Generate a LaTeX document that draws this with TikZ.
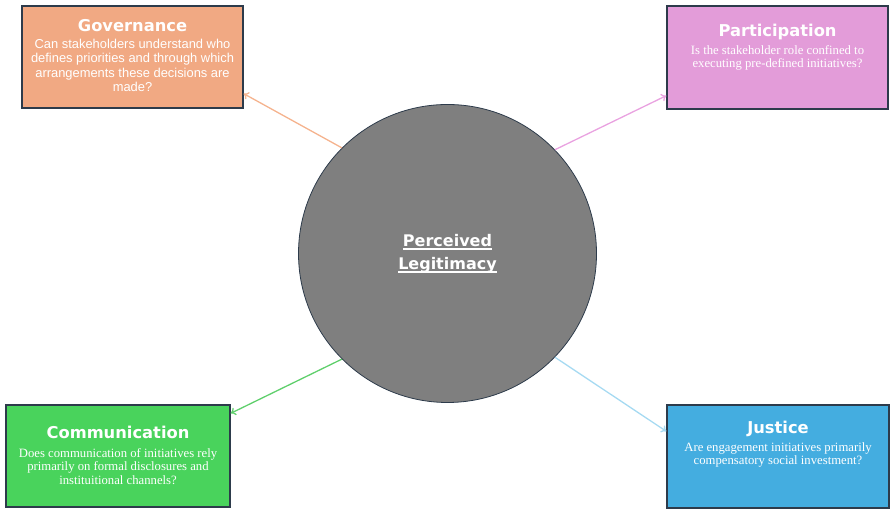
\documentclass[tikz,border=0pt]{standalone}
\usepackage{fontspec}
\setmainfont{Liberation Serif}
\newfontfamily\headfont{DejaVu Sans}
\newfontfamily\qsans{Liberation Sans}
\usepackage{tikz}
\usetikzlibrary{arrows.meta,positioning}
\definecolor{edge}{HTML}{2D3B4B}
\definecolor{hubgray}{HTML}{7F7F7F}
\definecolor{govfill}{HTML}{F1A983}
\definecolor{partfill}{HTML}{E39CD9}
\definecolor{commfill}{HTML}{49D35C}
\definecolor{justfill}{HTML}{44ADE0}
\definecolor{govline}{HTML}{F5B38E}
\definecolor{partline}{HTML}{E9A2E0}
\definecolor{commline}{HTML}{5FCF6C}
\definecolor{justline}{HTML}{A6DAF2}
% thick underline for the hub caption
\newcommand\hubline[1]{\setbox0\hbox{#1}\rlap{\rule[-3.5pt]{\wd0}{1.5pt}}\box0}
\newcommand\boxtitle[1]{{\fontsize{16.3}{18}\selectfont\headfont\bfseries #1}}
\tikzset{
  qbox/.style={
    rectangle, draw=edge, fill=#1, line width=1.3pt,
    minimum width=221pt, minimum height=102pt,
    inner sep=0pt
  },
  qbox/.default=govfill,
  qtext/.style={
    anchor=north, align=center, text=white, inner sep=0pt,
    font=\fontsize{12.7}{13.6}\selectfont
  },
  hub/.style={
    circle, draw=edge, fill=hubgray, line width=0.8pt,
    minimum size=298pt, inner sep=0pt,
    text=white, align=center,
    font=\fontsize{16}{23}\selectfont\headfont\bfseries
  },
  link/.style={
    -{To[length=5pt,width=8pt]}, line width=1.3pt, color=#1
  },
  link/.default=edge,
}

\begin{document}
\begin{tikzpicture}[x=1pt,y=1pt]
  \useasboundingbox (0,0) rectangle (890,510);

  \node[hub] (pl) at (447.5,256.5)
    {\hubline{Perceived}\\\hubline{Legitimacy}};

  % four question boxes round the hub
  \node[qbox=govfill] (gov) at (132.5,453) {};
  \node[qbox=partfill, minimum height=103pt] (part) at (777.5,452.5) {};
  \node[qbox=commfill, minimum width=224pt] (comm) at (118,54) {};
  \node[qbox=justfill, minimum width=222pt, minimum height=103pt] (just)
    at (778,53.5) {};

  \node[qtext, below=14pt of gov.north,
    font=\fontsize{12.9}{14.3}\selectfont\qsans] (govtxt)
    {\boxtitle{Governance}\\[2.5pt]
     Can stakeholders understand who\\
     defines priorities and through which\\
     arrangements these decisions are\\
     made?};
  \node[qtext, below=19pt of part.north] (parttxt)
    {\boxtitle{Participation}\\[3.5pt]
     Is the stakeholder role confined to\\
     executing pre-defined initiatives?};
  \node[qtext, below=22pt of comm.north] (commtxt)
    {\boxtitle{Communication}\\[4.5pt]
     Does communication of initiatives rely\\
     primarily on formal disclosures and\\
     instituitional channels?};
  \node[qtext, below=17pt of just.north] (justtxt)
    {\boxtitle{Justice}\\[3.5pt]
     Are engagement initiatives primarily\\
     compensatory social investment?};

  \draw[link=govline] (pl.135) -- ([yshift=15pt]gov.south east);
  \draw[link=partline] (pl.44) -- ([yshift=14pt]part.south west);
  \draw[link=commline] (pl.225) -- ([yshift=-9pt]comm.north east);
  \draw[link=justline] (pl.-44) -- ([yshift=-27pt]just.north west);
\end{tikzpicture}
\end{document}
